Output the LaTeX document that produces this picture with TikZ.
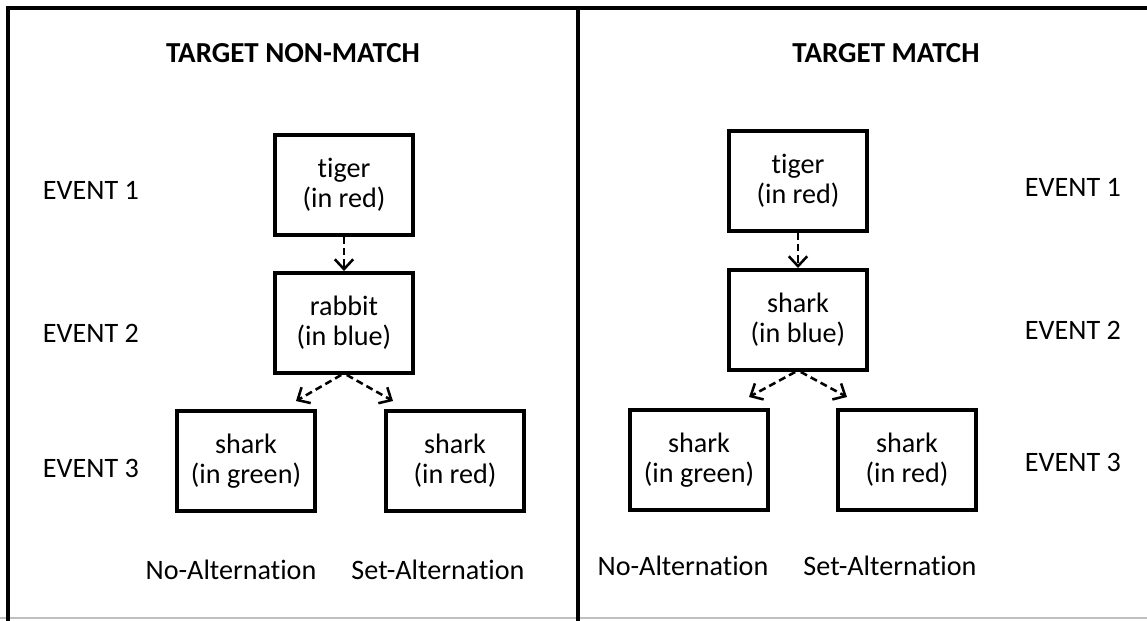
\documentclass[tikz,border=0pt]{standalone}
\usepackage{fontspec}
\setmainfont{Carlito}[Ligatures=NoCommon]
\usetikzlibrary{arrows.meta,positioning}

\tikzset{
  stim/.style={draw, line width=2.8pt, minimum width=3.45cm, minimum height=2.5cm,
    align=center, inner sep=0pt},
  link/.style={line width=1.8pt, dash pattern=on 5pt off 3pt,
    -{Straight Barb[length=7pt,width=13pt]}},
  heading/.style={font=\fontsize{20.6}{22}\selectfont\bfseries},
}

\begin{document}
\begin{tikzpicture}[x=0.025cm, y=-0.025cm, font=\fontsize{20}{21.5}\selectfont]
    \useasboundingbox (0,0) rectangle (1147,620);

    % frame round the two panels
    \draw[gray!50, line width=0.8pt] (0,618) -- (1147,618);
    \draw[line width=3pt] (8,625) -- (8,8) -- (1150,8);
    \draw[line width=3pt] (578,8) -- (578,625);

    % left panel: target non-match
    \node[heading] (titleL) at (293,53) {TARGET NON-MATCH};
    \node[anchor=west] (evL1) at (38,190) {EVENT 1};
    \node[anchor=west] (evL2) at (38,333) {EVENT 2};
    \node[anchor=west] (evL3) at (38,468) {EVENT 3};

    \node[stim] (tigerL) at (344,185) {tiger\\(in red)};
    \node[stim] (rabbitL) at (344,323) {rabbit\\(in blue)};
    \node[stim] (greenL) at (246,461) {shark\\(in green)};
    \node[stim] (redL) at (455,461) {shark\\(in red)};

    \coordinate (forkLa) at (296,401);
    \coordinate (forkLb) at (393,401);
    \draw[link] (tigerL) -- (rabbitL);
    \draw[link] ([xshift=-2pt]rabbitL.south) -- (forkLa);
    \draw[link] ([xshift=2pt]rabbitL.south) -- (forkLb);

    \node (noaltL) at (231,570) {No-Alternation};
    \node (setaltL) at (438,570) {Set-Alternation};

    % right panel: target match
    \node[heading] (titleR) at (886,53) {TARGET MATCH};
    \node[anchor=west] (evR1) at (1020,187) {EVENT 1};
    \node[anchor=west] (evR2) at (1020,330) {EVENT 2};
    \node[anchor=west] (evR3) at (1020,462) {EVENT 3};

    \node[stim] (tigerR) at (798,181) {tiger\\(in red)};
    \node[stim] (sharkR) at (798,320) {shark\\(in blue)};
    \node[stim] (greenR) at (699,460) {shark\\(in green)};
    \node[stim] (redR) at (907,460) {shark\\(in red)};

    \coordinate (forkRa) at (749,397);
    \coordinate (forkRb) at (847,397);
    \draw[link] (tigerR) -- (sharkR);
    \draw[link] ([xshift=-2pt]sharkR.south) -- (forkRa);
    \draw[link] ([xshift=2pt]sharkR.south) -- (forkRb);

    \node (noaltR) at (683,566) {No-Alternation};
    \node (setaltR) at (890,566) {Set-Alternation};
\end{tikzpicture}
\end{document}
